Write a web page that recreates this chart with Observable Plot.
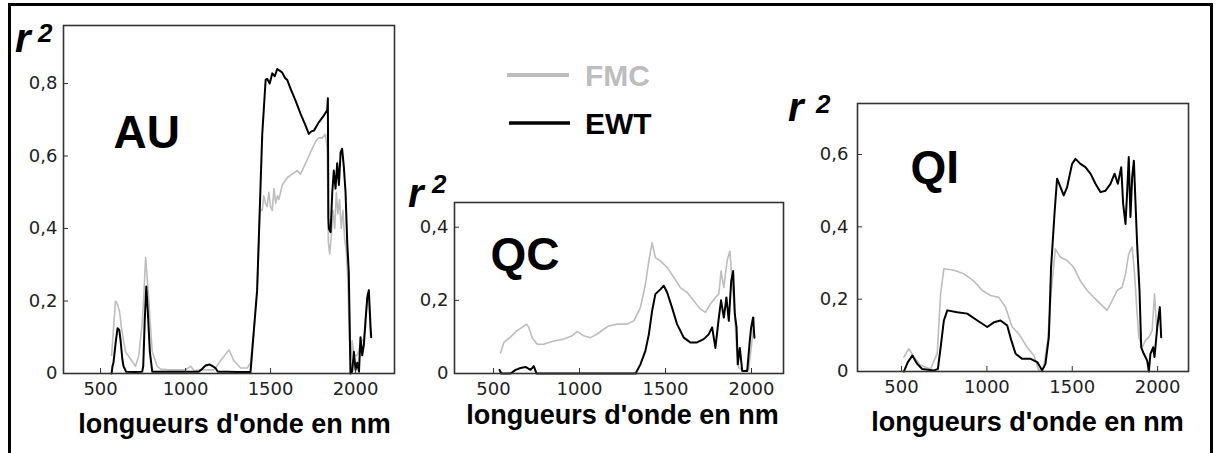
<!DOCTYPE html>
<html><head><meta charset="utf-8">
<script src="https://cdn.jsdelivr.net/npm/d3@7"></script>
<script src="https://cdn.jsdelivr.net/npm/@observablehq/plot@0.6"></script>
<style>
html,body{margin:0;padding:0;background:#fff;}
#wrap{position:relative;width:1218px;height:453px;overflow:hidden;background:#fff;}
#border{position:absolute;left:8px;top:3px;width:1199px;height:480px;border:3px solid #000;border-bottom:none;box-sizing:content-box;}
</style></head><body><div id="wrap"><div id="border"></div></div>
<script>
// ---- data: [wavelength nm, r²] ----
const seriesNames = ["FMC", "EWT"];
const seriesColors = ["#bdbdbd", "#000000"];
const xTicks = [500, 1000, 1500, 2000];
const axisTitle = "longueurs d'onde en nm";
const panelNames = ["AU", "QC", "QI"];

const auFMC = [[565,0.05],[580,0.15],[588,0.20],[600,0.19],[612,0.17],[622,0.13],[635,0.09],[647,0.06],[676,0.04],[706,0.02],[725,0.05],[745,0.14],[755,0.22],[765,0.32],[775,0.26],[784,0.2],[795,0.12],[804,0.06],[833,0.02],[853,0.012],[900,0.01],[1000,0.01],[1030,0.02],[1050,0.008],[1100,0.01],[1147,0.01],[1167,0.01],[1206,0.035],[1230,0.05],[1255,0.065],[1270,0.05],[1284,0.035],[1324,0.015],[1363,0.015],[1382,0.03],[1402,0.12],[1421,0.23],[1437,0.45],[1451,0.45],[1460,0.49],[1470,0.47],[1480,0.46],[1490,0.50],[1500,0.46],[1510,0.45],[1520,0.51],[1530,0.47],[1540,0.49],[1549,0.48],[1569,0.52],[1598,0.54],[1627,0.55],[1657,0.56],[1676,0.55],[1706,0.58],[1735,0.61],[1765,0.64],[1784,0.65],[1804,0.65],[1823,0.66],[1833,0.62],[1840,0.36],[1848,0.33],[1857,0.38],[1867,0.45],[1877,0.40],[1887,0.50],[1896,0.44],[1906,0.48],[1916,0.40],[1926,0.45],[1936,0.37],[1945,0.34],[1955,0.25],[1963,0.10],[1970,0.035],[1980,0.09],[1990,0.05],[2010,0.05],[2029,0.08],[2049,0.1],[2059,0.13],[2069,0.22],[2078,0.21],[2088,0.10]];
const auEWT = [[565,0],[570,0.02],[576,0.03],[590,0.09],[600,0.125],[610,0.12],[618,0.09],[628,0.04],[635,0.02],[650,0.005],[700,0.004],[745,0.005],[751,0.02],[760,0.15],[769,0.24],[778,0.17],[790,0.06],[804,0.005],[900,0.005],[1000,0.005],[1077,0.005],[1095,0.012],[1118,0.022],[1140,0.025],[1160,0.02],[1176,0.015],[1190,0.005],[1250,0.005],[1300,0.004],[1382,0.004],[1402,0.12],[1421,0.23],[1437,0.46],[1451,0.66],[1471,0.81],[1480,0.813],[1495,0.80],[1510,0.828],[1525,0.82],[1539,0.84],[1555,0.835],[1569,0.83],[1585,0.815],[1598,0.81],[1618,0.785],[1647,0.753],[1676,0.717],[1706,0.684],[1725,0.661],[1740,0.668],[1755,0.67],[1784,0.693],[1814,0.712],[1833,0.726],[1837,0.759],[1840,0.43],[1843,0.40],[1853,0.39],[1863,0.50],[1872,0.56],[1882,0.51],[1892,0.58],[1902,0.52],[1912,0.61],[1921,0.62],[1931,0.57],[1941,0.50],[1951,0.36],[1960,0.28],[1966,0.12],[1970,0],[1980,0.005],[1990,0.06],[2000,0.01],[2010,0.03],[2020,0.005],[2029,0.1],[2039,0.05],[2049,0.08],[2059,0.15],[2069,0.21],[2078,0.23],[2088,0.13],[2092,0.1]];

const qcFMC = [[541,0.057],[560,0.085],[599,0.10],[637,0.117],[666,0.126],[692,0.135],[705,0.126],[725,0.098],[754,0.08],[792,0.08],[851,0.089],[909,0.094],[957,0.103],[986,0.115],[1025,0.103],[1064,0.098],[1103,0.108],[1141,0.121],[1170,0.13],[1219,0.135],[1277,0.135],[1316,0.144],[1354,0.18],[1383,0.244],[1403,0.308],[1422,0.358],[1441,0.317],[1470,0.308],[1509,0.29],[1548,0.263],[1586,0.235],[1625,0.222],[1664,0.199],[1703,0.176],[1732,0.167],[1761,0.19],[1790,0.208],[1810,0.217],[1823,0.28],[1839,0.235],[1858,0.308],[1874,0.335],[1887,0.253],[1897,0.2],[1913,0.07],[1926,0.016],[1955,0.007],[1984,0.012],[2003,0.09],[2017,0.153]];
const qcEWT = [[535,0.01],[545,0],[599,0],[628,0.01],[657,0.015],[686,0.018],[715,0.01],[734,0.02],[750,0],[1000,0],[1326,0],[1354,0.025],[1383,0.062],[1403,0.107],[1422,0.171],[1441,0.217],[1470,0.23],[1490,0.24],[1509,0.222],[1538,0.18],[1567,0.135],[1606,0.098],[1644,0.085],[1683,0.085],[1722,0.094],[1751,0.107],[1771,0.126],[1790,0.07],[1810,0.153],[1823,0.2],[1839,0.153],[1854,0.208],[1868,0.144],[1882,0.253],[1893,0.28],[1903,0.162],[1913,0.126],[1920,0.025],[1932,0.07],[1946,0.007],[1975,0.007],[1990,0.09],[1998,0.126],[2009,0.153],[2017,0.098]];

const qiFMC = [[514,0.04],[543,0.063],[572,0.04],[611,0.017],[670,0.007],[709,0.05],[729,0.215],[748,0.284],[807,0.28],[865,0.27],[924,0.25],[973,0.224],[1021,0.21],[1070,0.205],[1109,0.178],[1148,0.123],[1187,0.104],[1236,0.067],[1275,0.044],[1304,0.003],[1333,0.012],[1356,0.086],[1376,0.215],[1401,0.339],[1431,0.316],[1470,0.307],[1509,0.288],[1548,0.25],[1587,0.224],[1626,0.205],[1665,0.187],[1704,0.169],[1734,0.196],[1763,0.224],[1792,0.233],[1812,0.27],[1831,0.325],[1851,0.344],[1865,0.27],[1880,0.16],[1890,0.095],[1910,0.067],[1929,0.086],[1949,0.095],[1968,0.113],[1982,0.215],[1994,0.123]];
const qiEWT = [[514,0],[537,0.026],[563,0.044],[592,0.021],[621,0.007],[690,0.003],[713,0.007],[729,0.067],[748,0.141],[768,0.169],[826,0.164],[885,0.16],[944,0.141],[1002,0.123],[1041,0.136],[1080,0.141],[1119,0.127],[1143,0.086],[1168,0.049],[1207,0.035],[1256,0.035],[1295,0.026],[1324,0.003],[1343,0.021],[1363,0.095],[1376,0.288],[1396,0.436],[1411,0.533],[1431,0.51],[1450,0.487],[1470,0.51],[1499,0.574],[1519,0.588],[1548,0.574],[1577,0.565],[1607,0.547],[1636,0.519],[1665,0.496],[1695,0.5],[1724,0.519],[1748,0.547],[1767,0.519],[1787,0.565],[1798,0.464],[1812,0.408],[1822,0.5],[1831,0.593],[1841,0.427],[1851,0.537],[1861,0.583],[1870,0.473],[1880,0.353],[1894,0.224],[1904,0.067],[1919,0.049],[1939,0.03],[1949,0],[1958,0.049],[1974,0.067],[1982,0.04],[1998,0.123],[2013,0.178],[2021,0.095]];

const auYTicks = [0, 0.2, 0.4, 0.6, 0.8];
const qcYTicks = [0, 0.2, 0.4];
const qiYTicks = [0, 0.2, 0.4, 0.6];

// ---- drawing ----
const W = 1218, H = 453;
const fmtY = d => d === 0 ? "0" : d3.format(".1f")(d).replace(".", ",");
const boldFont = "'Liberation Sans', Arial, sans-serif";

function panel(o) {
  return Plot.plot({
    width: W, height: H,
    marginLeft: o.frame[0], marginRight: W - o.frame[1],
    marginTop: o.frame[2], marginBottom: H - o.frame[3],
    x: {domain: o.xDomain, label: null},
    y: {domain: o.yDomain, label: null},
    style: {position: "absolute", left: "0px", top: "0px", background: "transparent",
            fontFamily: "'DejaVu Sans', sans-serif", fontSize: "18px", overflow: "visible", maxWidth: "none"},
    marks: [
      Plot.line(o.fmc, {x: d => d[0], y: d => d[1], stroke: seriesColors[0], strokeWidth: 1.6}),
      Plot.line(o.ewt, {x: d => d[0], y: d => d[1], stroke: seriesColors[1], strokeWidth: 2}),
      Plot.frame({stroke: "#333", strokeWidth: 1.6}),
      Plot.axisX({ticks: xTicks, tickSize: -5, tickPadding: 14, tickFormat: d => String(d),
                  fill: "#222", stroke: "#333", label: null, fontSize: 18}),
      Plot.axisY({ticks: o.yTicks, tickSize: -5, tickPadding: o.yPad, tickFormat: fmtY,
                  fill: "#222", stroke: "#333", label: null, fontSize: 18}),
      Plot.text([o.name], {text: d => d, frameAnchor: "top-left", dx: o.nameD[0], dy: o.nameD[1],
                  textAnchor: "start", lineAnchor: "middle", fontFamily: boldFont, fontWeight: "bold", fontSize: 46, fill: "#000"}),
      Plot.text([axisTitle], {text: d => d, frameAnchor: "bottom", dx: o.titleD[0], dy: o.titleD[1],
                  lineAnchor: "middle", fontFamily: boldFont, fontWeight: "bold", fontSize: 27, fill: "#000"})
    ]
  });
}

const wrap = document.getElementById("wrap");
wrap.appendChild(panel({name: panelNames[0], fmc: auFMC, ewt: auEWT, xDomain: [282, 2229], yDomain: [0, 0.96],
  yTicks: auYTicks, frame: [63, 394, 25, 373], yPad: 11, nameD: [50, 108], titleD: [5.5, 50.4]}));
wrap.appendChild(panel({name: panelNames[1], fmc: qcFMC, ewt: qcEWT, xDomain: [273, 2186], yDomain: [0, 0.4675],
  yTicks: qcYTicks, frame: [454, 783, 202, 373], yPad: 11, nameD: [36, 53], titleD: [3.5, 41.4]}));
wrap.appendChild(panel({name: panelNames[2], fmc: qiFMC, ewt: qiEWT, xDomain: [242, 2181], yDomain: [0, 0.741],
  yTicks: qiYTicks, frame: [857, 1188, 103, 371], yPad: 14, nameD: [53, 65], titleD: [4.5, 50.4]}));

// ---- overlay: legend and r² labels ----
const svg = d3.select(wrap).append("svg")
  .attr("width", W).attr("height", H)
  .style("position", "absolute").style("left", "0px").style("top", "0px");
const leg = [
  {name: seriesNames[0], color: seriesColors[0], x1: 507, x2: 569, y: 75, base: 86, w: 4},
  {name: seriesNames[1], color: seriesColors[1], x1: 509, x2: 570, y: 123, base: 134, w: 3.5}
];
leg.forEach(l => {
  svg.append("line").attr("x1", l.x1).attr("x2", l.x2).attr("y1", l.y).attr("y2", l.y)
    .attr("stroke", l.color).attr("stroke-width", l.w);
  svg.append("text").attr("x", 585).attr("y", l.base).text(l.name)
    .attr("fill", l.color).attr("font-family", boldFont).attr("font-weight", "bold").attr("font-size", 30);
});
const r2pos = [[15, 52, 38, 42], [408, 207, 432, 193], [788, 121, 816, 113]];
r2pos.forEach(([rx, ry, tx, ty]) => {
  svg.append("text").attr("x", rx).attr("y", ry).text("r")
    .attr("font-family", boldFont).attr("font-weight", "bold").attr("font-style", "italic").attr("font-size", 40);
  svg.append("text").attr("x", tx).attr("y", ty).text("2")
    .attr("font-family", boldFont).attr("font-weight", "bold").attr("font-style", "italic").attr("font-size", 26);
});
</script>
</body></html>
